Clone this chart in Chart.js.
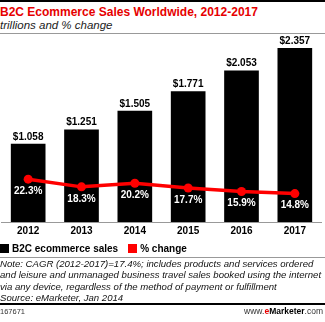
<!DOCTYPE html>
<html>
<head>
<meta charset="utf-8">
<script src="https://cdn.jsdelivr.net/npm/chart.js@4"></script>
<style>
  html, body { margin: 0; padding: 0; background: #fff; }
  body { width: 325px; height: 322px; position: relative; overflow: hidden;
         font-family: "Liberation Sans", Arial, sans-serif; color: #000; }
  .abs { position: absolute; white-space: nowrap; }
  #topbar { left: 0; top: 0; width: 325px; height: 2px; background: #000; }
  #title { left: 0; top: 5px; font-size: 12px; line-height: 14px; font-weight: bold; color: #e60000; }
  #subtitle { left: 0; top: 18px; font-size: 11.5px; line-height: 14px; font-style: italic; color: #222; }
  #rule1 { left: 0; top: 33px; width: 325px; height: 1px; background: #999; }
  #chart { position: absolute; left: -3px; top: 0; }
  #legend { left: 0; top: 243px; font-size: 10px; line-height: 12px; font-weight: bold; display: flex; }
  #legend span.box { display: inline-block; width: 9px; height: 9px; margin: 1px 3px 0 0; vertical-align: top; }
  #legend .item { margin-right: 10px; }
  #rule2 { left: 0; top: 257px; width: 325px; height: 1px; background: #999; }
  #note { left: 0; top: 258px; font-size: 9.6px; line-height: 11.3px; font-style: italic; color: #111; }
  #rule3 { left: 0; top: 303px; width: 325px; height: 2px; background: #000; }
  #chartid { left: 0; top: 307px; font-size: 7.5px; line-height: 9px; color: #333; }
  #brand { right: 2px; top: 306px; font-size: 8.5px; line-height: 10px; color: #333; }
  #brand b { color: #000; }
  #brand .e { color: #e60000; font-weight: bold; }
</style>
</head>
<body>
<div id="topbar" class="abs"></div>
<div id="title" class="abs">B2C Ecommerce Sales Worldwide, 2012-2017</div>
<div id="subtitle" class="abs">trillions and % change</div>
<div id="rule1" class="abs"></div>

<canvas id="chart" width="329" height="322"></canvas>

<div id="legend" class="abs">
  <div class="item"><span class="box" style="background:#000"></span>B2C ecommerce sales</div>
  <div class="item"><span class="box" style="background:#ff0000"></span>% change</div>
</div>
<div id="rule2" class="abs"></div>
<div id="note" class="abs">Note: CAGR (2012-2017)=17.4%; includes products and services ordered<br>and leisure and unmanaged business travel sales booked using the internet<br>via any device, regardless of the method of payment or fulfillment<br>Source: eMarketer, Jan 2014</div>
<div id="rule3" class="abs"></div>
<div id="chartid" class="abs">167671</div>
<div id="brand" class="abs">www.<span class="e">e</span><b>Marketer</b>.com</div>

<script>
  const years = ['2012', '2013', '2014', '2015', '2016', '2017'];
  const salesTrillions = [1.058, 1.251, 1.505, 1.771, 2.053, 2.357];
  const pctChange = [22.3, 18.3, 20.2, 17.7, 15.9, 14.8];

  const FONT = '"Liberation Sans", Arial, sans-serif';

  // value labels: "$x.xxx" above bars, white "%" under the line points
  const valueLabels = {
    id: 'valueLabels',
    afterDatasetsDraw(chart) {
      const ctx = chart.ctx;
      ctx.save();
      ctx.font = 'bold 10px ' + FONT;
      ctx.textAlign = 'center';
      ctx.textBaseline = 'middle';

      chart.getDatasetMeta(0).data.forEach((bar, i) => {
        ctx.fillStyle = '#000';
        ctx.fillText('$' + salesTrillions[i].toFixed(3), bar.x, bar.y - 7);
      });
      chart.getDatasetMeta(1).data.forEach((pt, i) => {
        ctx.fillStyle = '#fff';
        ctx.fillText(pctChange[i].toFixed(1) + '%', pt.x, pt.y + 12);
      });
      ctx.restore();
    }
  };

  new Chart(document.getElementById('chart').getContext('2d'), {
    data: {
      labels: years,
      datasets: [{
        type: 'bar',
        label: 'B2C ecommerce sales',
        data: salesTrillions,
        backgroundColor: '#000',
        barPercentage: 0.65,
        categoryPercentage: 1,
        yAxisID: 'y',
        order: 1
      }, {
        type: 'line',
        label: '% change',
        data: pctChange,
        borderColor: '#ff0000',
        backgroundColor: '#ff0000',
        borderWidth: 3.5,
        pointRadius: 4.5,
        pointBackgroundColor: '#ff0000',
        pointBorderWidth: 0,
        tension: 0,
        yAxisID: 'y2',
        order: 0
      }]
    },
    options: {
      responsive: false,
      animation: false,
      devicePixelRatio: 1,
      layout: { padding: { top: 30, bottom: 84, left: 0, right: 0 } },
      plugins: { legend: { display: false }, tooltip: { enabled: false } },
      scales: {
        x: {
          grid: { display: false, drawTicks: false },
          border: { display: true, color: '#999', width: 1 },
          ticks: { color: '#000', padding: 3, font: { family: FONT, size: 10, weight: 'bold' } },
          afterFit: scale => { scale.height = 16; }
        },
        y: { display: false, min: 0, max: 2.6 },
        y2: { display: false, min: 0, max: 100 }
      }
    },
    plugins: [valueLabels]
  });
</script>
</body>
</html>
